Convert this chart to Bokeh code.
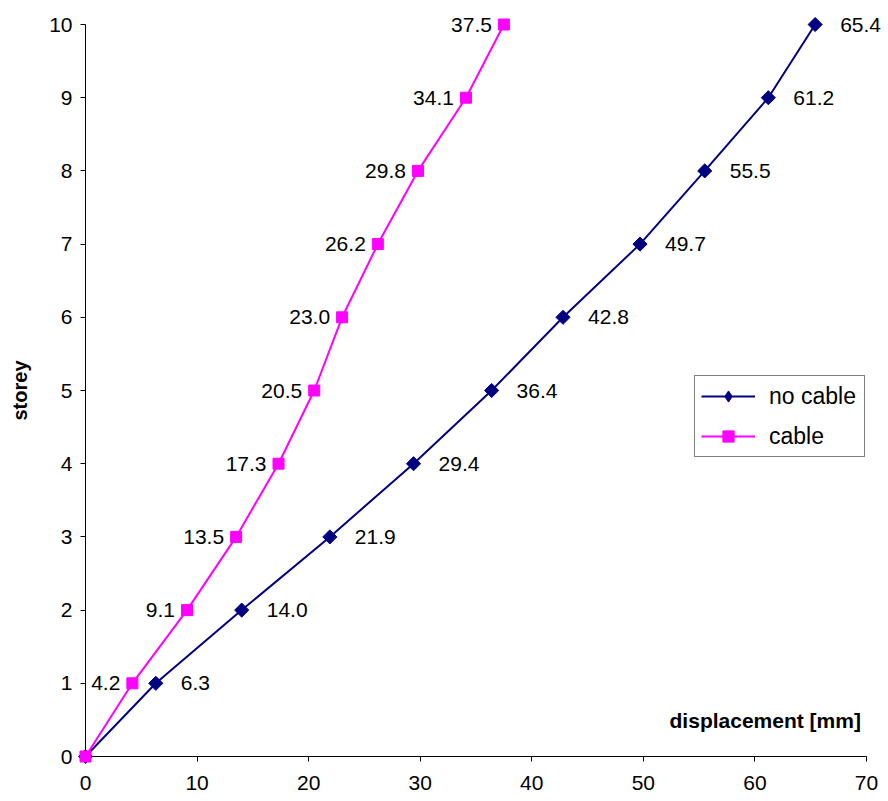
import numpy as np
from bokeh.plotting import figure
from bokeh.models import Range1d, FixedTicker, Label, ColumnDataSource, Legend, LegendItem
from bokeh.core.properties import value
from bokeh.embed import file_html
from bokeh.resources import INLINE

storeys = [0, 1, 2, 3, 4, 5, 6, 7, 8, 9, 10]
no_cable = [0, 6.3, 14.0, 21.9, 29.4, 36.4, 42.8, 49.7, 55.5, 61.2, 65.4]
cable = [0, 4.2, 9.1, 13.5, 17.3, 20.5, 23.0, 26.2, 29.8, 34.1, 37.5]
x_ticks = [0, 10, 20, 30, 40, 50, 60, 70]
y_ticks = [0, 1, 2, 3, 4, 5, 6, 7, 8, 9, 10]

FONT = "Liberation Sans"
NAVY = "#000080"
MAGENTA = "#FF00FF"

p = figure(width=888, height=801, output_backend="svg", toolbar_location=None,
           x_range=Range1d(0, 70), y_range=Range1d(0, 10),
           min_border_left=85, min_border_right=22, min_border_top=24, min_border_bottom=45)
p.outline_line_color = None
p.grid.visible = False
p.background_fill_color = "white"

for ax in (p.xaxis[0], p.yaxis[0]):
    ax.axis_line_color = "#000000"
    ax.axis_line_width = 1
    ax.major_tick_out = 5
    ax.major_tick_in = 0
    ax.minor_tick_line_color = None
    ax.major_tick_line_color = "#000000"
    ax.major_label_text_font = FONT
    ax.major_label_text_font_size = "21px"
    ax.major_label_text_color = "#000000"

p.xaxis.ticker = FixedTicker(ticks=x_ticks)
p.yaxis.ticker = FixedTicker(ticks=y_ticks)
p.xaxis.major_label_standoff = 14
p.yaxis.major_label_standoff = 8
p.yaxis.axis_label = "storey"
p.yaxis.axis_label_text_font = FONT
p.yaxis.axis_label_text_font_style = "bold"
p.yaxis.axis_label_text_font_size = "20px"
p.yaxis.axis_label_text_color = "#000000"
p.yaxis.axis_label_standoff = 15

src_n = ColumnDataSource(dict(x=no_cable, y=storeys,
                              t=["" if i == 0 else f"{v:.1f}" for i, v in enumerate(no_cable)]))
src_c = ColumnDataSource(dict(x=cable, y=storeys,
                              t=["" if i == 0 else f"{v:.1f}" for i, v in enumerate(cable)]))

ln = p.line("x", "y", source=src_n, line_color=NAVY, line_width=2)
sn = p.scatter("x", "y", source=src_n, marker="square", angle=np.pi / 4, size=10,
               fill_color=NAVY, line_color=NAVY, level="overlay")
lc = p.line("x", "y", source=src_c, line_color=MAGENTA, line_width=2)
sc = p.scatter("x", "y", source=src_c, marker="square", size=11,
               fill_color=MAGENTA, line_color=MAGENTA, level="overlay")

# legend-only diamond glyph (not shown in the plot area)
leg_d = p.scatter(x=[np.nan], y=[np.nan], marker="diamond", fill_color=NAVY, line_color=NAVY)

p.text("x", "y", text="t", source=src_n, x_offset=25, text_align="left",
       text_baseline="middle", text_font=value(FONT), text_font_size="21px",
       text_color="#000000", level="overlay")
p.text("x", "y", text="t", source=src_c, x_offset=-12, text_align="right",
       text_baseline="middle", text_font=value(FONT), text_font_size="21px",
       text_color="#000000", level="overlay")

p.add_layout(Label(x=69.5, y=0.49, text="displacement [mm]", text_align="right",
                   text_baseline="middle", text_font=FONT, text_font_style="bold",
                   text_font_size="21px", text_color="#000000"))

legend = Legend(items=[LegendItem(label="no cable", renderers=[ln, leg_d]),
                       LegendItem(label="cable", renderers=[lc, sc])],
                location=(609, 299), orientation="vertical")
legend.border_line_color = "#000000"
legend.border_line_width = 1
legend.background_fill_color = "white"
legend.background_fill_alpha = 1
legend.label_text_font = FONT
legend.label_text_font_size = "23px"
legend.label_text_color = "#000000"
legend.glyph_width = 54
legend.glyph_height = 28
legend.label_standoff = 14
legend.label_width = 89
legend.spacing = 12
legend.padding = 6
legend.margin = 0
p.add_layout(legend, "center")

open("out.html", "w").write(file_html(p, INLINE))
